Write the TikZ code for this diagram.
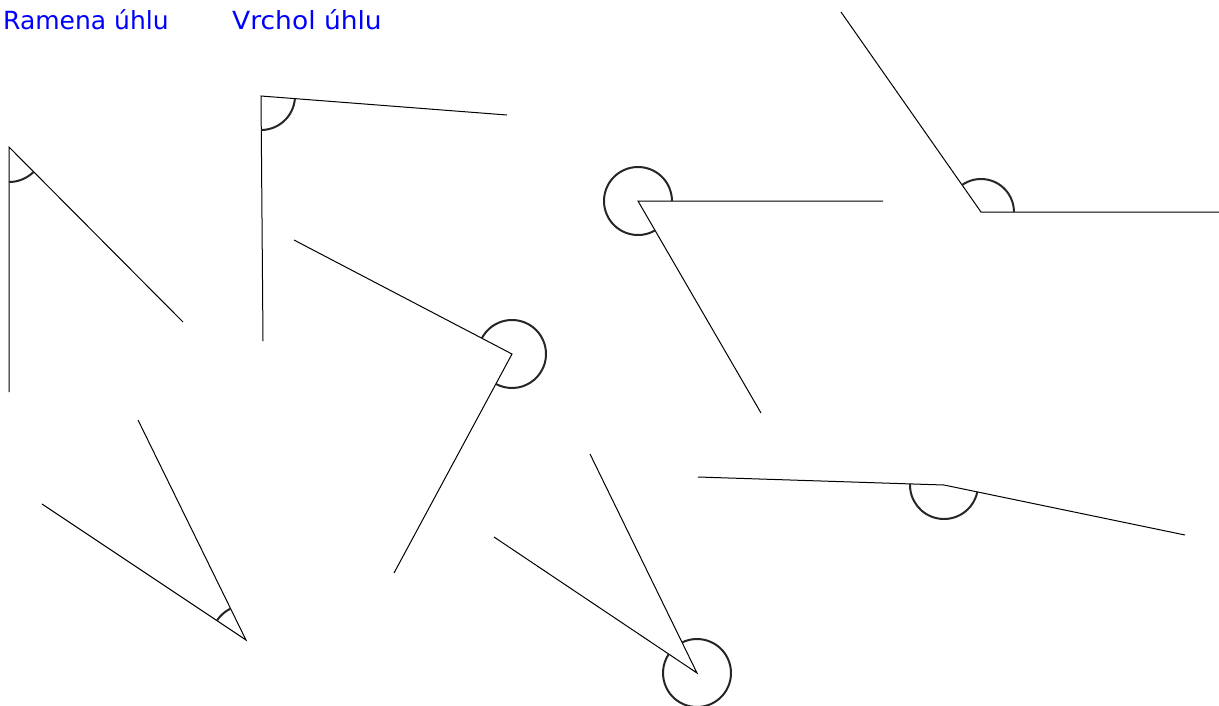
\documentclass[tikz,border=0pt]{standalone}
\usepackage{fontspec}
\setmainfont{DejaVu Sans}
\begin{document}
\begin{tikzpicture}[x=1pt,y=-1pt,
  arm/.style={draw=black,line width=1pt},
  anglearc/.style={draw=black!85,line width=2pt},
  lbl/.style={text=blue,font=\fontsize{25}{29}\selectfont,anchor=base west,inner sep=0pt}]
\useasboundingbox (0,0) rectangle (1219,705);
\node[lbl] (t1) at (3,29) {Ramena úhlu};
\node[lbl,xscale=1.06] (t2) at (232,29) {Vrchol úhlu};
% angle 1
\coordinate (v1) at (9,147); \coordinate (a1) at (9,392); \coordinate (b1) at (183,322);
\draw[arm] (a1) -- (v1) -- (b1);
\draw[anglearc] (v1) ++(45.2:35) arc[start angle=45.2,end angle=90,radius=35];
% angle 2
\coordinate (v2) at (261,96); \coordinate (a2) at (263,341); \coordinate (b2) at (507,115);
\draw[arm] (a2) -- (v2) -- (b2);
\draw[anglearc] (v2) ++(4.4:34) arc[start angle=4.4,end angle=89.5,radius=34];
% angle 3
\coordinate (v3) at (512,354); \coordinate (a3) at (294,240); \coordinate (b3) at (394,573);
\draw[arm] (a3) -- (v3) -- (b3);
\draw[anglearc] (v3) ++(207.6:34) arc[start angle=207.6,end angle=478.3,radius=34];
% angle 4
\coordinate (v4) at (638,201); \coordinate (a4) at (883,201); \coordinate (b4) at (761,413);
\draw[arm] (a4) -- (v4) -- (b4);
\draw[anglearc] (v4) ++(59.9:34) arc[start angle=59.9,end angle=360,radius=34];
% angle 5
\coordinate (v5) at (981,212); \coordinate (a5) at (841,12); \coordinate (b5) at (1219,212);
\draw[arm] (a5) -- (v5) -- (b5);
\draw[anglearc] (v5) ++(235:33) arc[start angle=235,end angle=360,radius=33];
% angle 6
\coordinate (v6) at (246,640); \coordinate (a6) at (138,420); \coordinate (b6) at (42,504);
\draw[arm] (a6) -- (v6) -- (b6);
\draw[anglearc] (v6) ++(213.7:35) arc[start angle=213.7,end angle=243.9,radius=35];
% angle 7
\coordinate (v7) at (697,673); \coordinate (a7) at (590,454); \coordinate (b7) at (494,537);
\draw[arm] (a7) -- (v7) -- (b7);
\draw[anglearc] (v7) ++(244:34) arc[start angle=244,end angle=573.8,radius=34];
% angle 8
\coordinate (v8) at (944,485); \coordinate (a8) at (698,477); \coordinate (b8) at (1185,535);
\draw[arm] (a8) -- (v8) -- (b8);
\draw[anglearc] (v8) ++(11.7:34) arc[start angle=11.7,end angle=181.9,radius=34];
\end{tikzpicture}
\end{document}
